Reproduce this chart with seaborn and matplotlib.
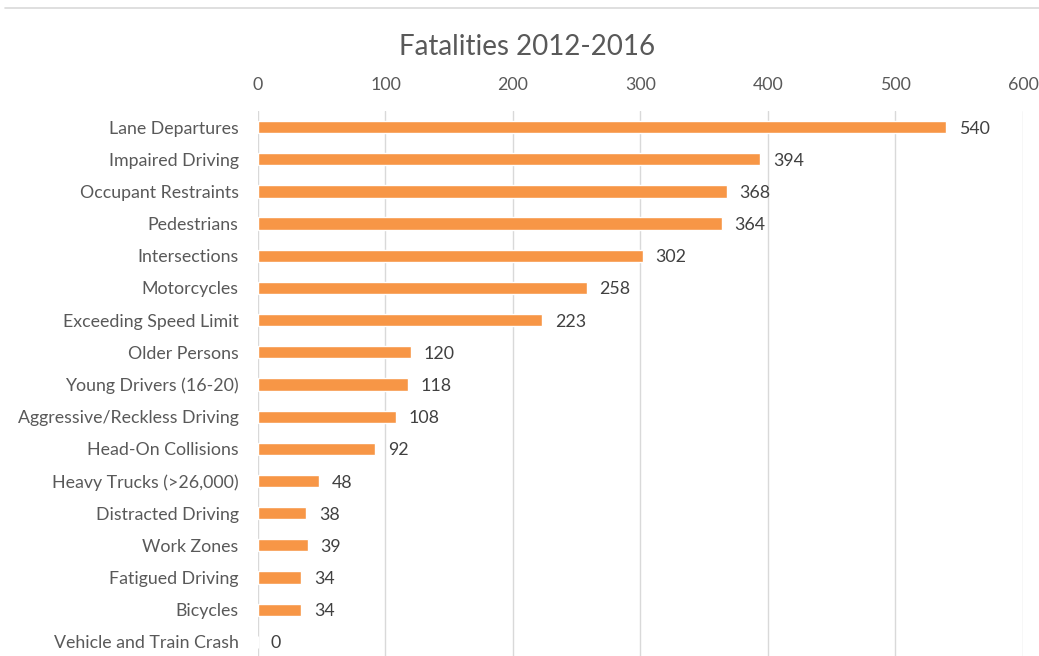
import matplotlib
matplotlib.use("Agg")
import matplotlib.pyplot as plt
import seaborn as sns
import pandas as pd

categories = ["Lane Departures", "Impaired Driving", "Occupant Restraints", "Pedestrians",
              "Intersections", "Motorcycles", "Exceeding Speed Limit", "Older Persons",
              "Young Drivers (16-20)", "Aggressive/Reckless Driving", "Head-On Collisions",
              "Heavy Trucks (>26,000)", "Distracted Driving", "Work Zones", "Fatigued Driving",
              "Bicycles", "Vehicle and Train Crash"]
values = [540, 394, 368, 364, 302, 258, 223, 120, 118, 108, 92, 48, 38, 39, 34, 34, 0]
title = "Fatalities 2012-2016"

sns.set_theme(style="white")
plt.rcParams['font.family'] = ['Lato', 'DejaVu Sans']

df = pd.DataFrame({"cat": categories, "val": values})
fig = plt.figure(figsize=(10.39, 6.56), dpi=100)
ax = fig.add_axes([0.2483, -0.003, 0.9846 - 0.2483, 0.8338])
sns.barplot(data=df, x="val", y="cat", color="#F79646", saturation=1, width=0.38, ax=ax, orient="h")

ax.set_xlim(0, 600)
ax.set_ylim(len(categories) - 0.5, -0.5)
ax.xaxis.tick_top()
ax.set_xticks(range(0, 601, 100))
ax.grid(axis="x", color="#D9D9D9", linewidth=1)
ax.set_axisbelow(True)
for s in ax.spines.values():
    s.set_visible(False)
ax.tick_params(axis="both", length=0, labelsize=12.8, colors="#595959")
ax.tick_params(axis="x", pad=13)
ax.tick_params(axis="y", pad=14)
ax.set_xlabel("")
ax.set_ylabel("")
for i, v in enumerate(values):
    ax.annotate(str(v), (v, i), xytext=(9, 0), textcoords="offset points",
                va="center_baseline", ha="left", fontsize=12.8, color="#404040")

fig.text(0.507, 0.928, title, ha="center", va="center", fontsize=20, color="#595959")
fig.add_artist(plt.Line2D([0.005, 1.0], [0.9878, 0.9878], color="#D9D9D9", linewidth=1.2))

fig.savefig("out.png", dpi=100, facecolor="white")
